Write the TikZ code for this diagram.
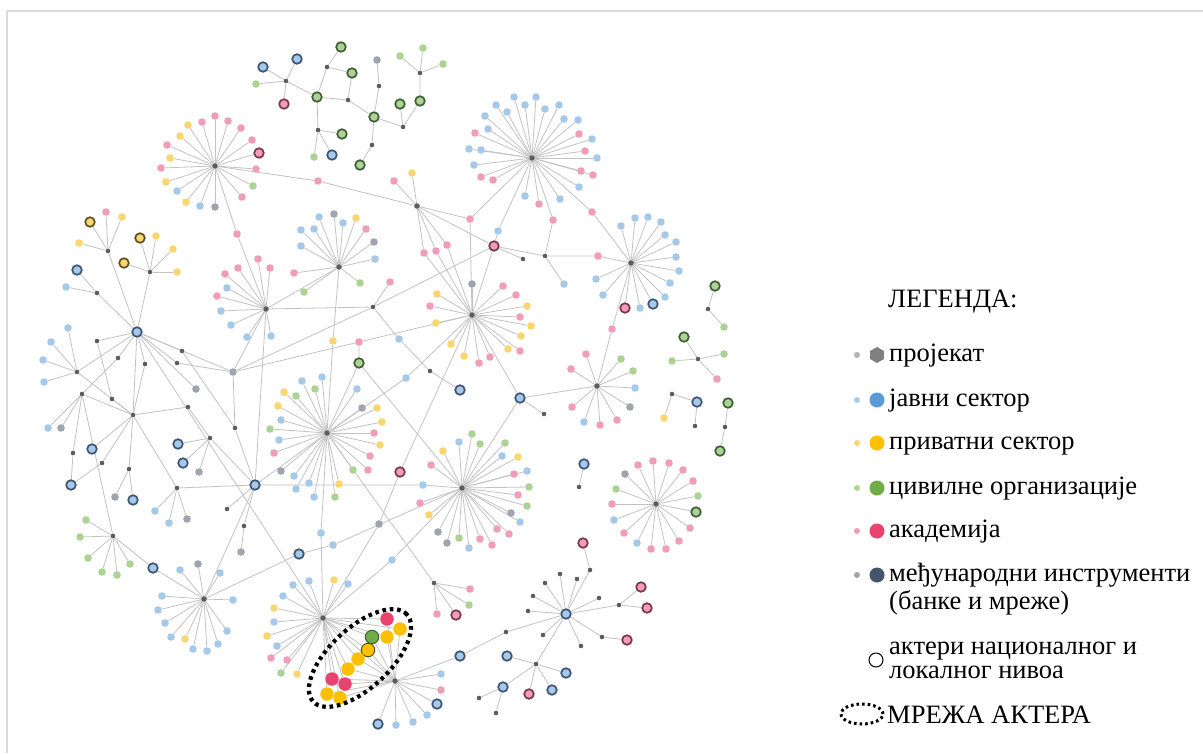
\documentclass[tikz,border=0pt]{standalone}
\usepackage{fontspec}
\setmainfont{Liberation Serif}
\usetikzlibrary{shapes.geometric}
\pgfdeclarelayer{edges}
\pgfsetlayers{edges,main}

\definecolor{cB}{HTML}{A6C9EA}
\definecolor{cP}{HTML}{F29DB6}
\definecolor{cY}{HTML}{F9D66F}
\definecolor{cG}{HTML}{ACD295}
\definecolor{cX}{HTML}{9FA4AE}
\definecolor{cXl}{HTML}{B4B4B4}
\definecolor{rB}{HTML}{3F5473}
\definecolor{rP}{HTML}{7A3550}
\definecolor{rG}{HTML}{3F5E33}
\definecolor{rY}{HTML}{5E5020}
\definecolor{sB}{HTML}{5B9BD5}
\definecolor{sY}{HTML}{FFC000}
\definecolor{sG}{HTML}{70AD47}
\definecolor{sP}{HTML}{E8436E}
\definecolor{sN}{HTML}{44546A}
\definecolor{sH}{HTML}{808080}
\definecolor{hubc}{HTML}{5C5C5C}
\definecolor{edgec}{HTML}{C2C2C2}
\definecolor{framec}{HTML}{DADADA}

\tikzset{
  edge/.style={draw=edgec, line width=0.8pt},
  dot/.style={circle, inner sep=0pt, minimum size=7.6pt, draw=none},
  lb/.style={dot, fill=cB},
  lp/.style={dot, fill=cP},
  ly/.style={dot, fill=cY},
  lg/.style={dot, fill=cG},
  lx/.style={dot, fill=cX},
  ring/.style={circle, inner sep=0pt, minimum size=9.6pt, line width=1.7pt},
  ob/.style={ring, fill=cB, draw=rB},
  op/.style={ring, fill=cP, draw=rP},
  og/.style={ring, fill=cG, draw=rG},
  oy/.style={ring, fill=cY, draw=rY},
  hub/.style={circle, inner sep=0pt, minimum size=4.6pt, fill=hubc},
  bighub/.style={circle, inner sep=0pt, minimum size=5.6pt, fill=hubc},
  big/.style={circle, inner sep=0pt, minimum size=13.5pt},
  bigp/.style={big, fill=sP},
  bigy/.style={big, fill=sY},
  bigyo/.style={big, fill=sY, draw=rY, line width=1pt},
  biggo/.style={big, fill=sG, draw=rG, line width=1pt},
  legtext/.style={anchor=base west, inner sep=0pt, font=\fontsize{26.5}{30}\selectfont},
  legsmall/.style={circle, inner sep=0pt, minimum size=6pt},
  legbig/.style={circle, inner sep=0pt, minimum size=15pt},
  mesh/.style={draw=black, line width=4.2pt, dash pattern=on 3.6pt off 3.8pt},
}

% leaves of a hub (name, list of x/y/style) and the spokes to them
\newcommand\leafset[2]{%
  \foreach \px/\py/\st [count=\k] in #2 {\node[\st] (#1-\k) at (\px,\py) {};}}
\newcommand\spokeset[2]{%
  \foreach \px/\py/\st [count=\k] in #2 {\draw[edge] (#1) -- (#1-\k);}}

% leaf lists
\newcommand\lsA{188/125/ly, 202/122/lp, 215/116/lp, 228/121/lp, 241/128/lp, 252/140/lp, 259/153/op, 256/169/lp, 253/186/lg, 242/197/lp, 215/207/lx, 200/206/lb, 186/202/ly, 177/191/lb, 166/182/ly, 161/168/lp, 170/158/ly, 167/145/lp, 180/136/ly}
\newcommand\lsC{258/259/lp, 238/268/lp, 225/274/lp, 270/268/lp, 227/288/lb, 217/296/lp, 221/311/lb, 231/325/lb, 247/337/lb, 271/336/lb}
\newcommand\lsD{319/217/lb, 334/214/lx, 343/223/lb, 356/218/ly, 366/229/lp, 374/242/lx, 375/259/lb, 360/283/lg, 301/230/lb, 314/229/lb, 301/246/lb, 294/273/lp, 304/292/lg}
\newcommand\lsB{394/181/lp, 412/173/ly}
\newcommand\lsF{514/97/lb, 536/97/lb, 496/105/lb, 525/105/lb, 507/112/lb, 545/109/lb, 559/105/lb, 564/119/lb, 578/120/lb, 485/116/lb, 488/129/lb, 475/133/lp, 579/134/lp, 592/139/lb, 469/149/lb, 481/150/lb, 585/151/lp, 597/158/lb, 474/165/lb, 481/177/lp, 493/180/lp, 581/171/lp, 593/175/lp, 579/187/lb, 525/196/lb, 560/199/lb, 539/204/lp}
\newcommand\lsG{621/226/lb, 635/218/lb, 648/217/lb, 661/222/lb, 665/235/lb, 676/242/lb, 676/257/lb, 679/271/lb, 670/283/lb, 665/297/lb, 653/304/ob, 640/308/lb, 625/308/op, 603/295/lb, 596/279/lb}
\newcommand\lsI{586/354/lp, 571/369/lp, 621/359/lg, 633/371/lg, 635/388/lb, 630/407/lx, 617/420/lp, 600/425/lp, 584/422/lb, 572/407/lp}
\newcommand\lsH{472/284/lx, 503/286/lp, 516/295/lp, 527/306/ly, 520/317/lp, 531/326/ly, 521/336/ly, 520/351/lp, 508/349/ly, 490/357/lp, 479/363/lp, 464/356/ly, 451/344/ly, 436/323/ly, 430/306/lp, 437/294/ly}
\newcommand\lsE{362/408/lx, 377/408/ly, 382/422/ly, 374/433/lp, 380/445/ly, 370/456/lp, 368/470/lp, 353/470/lg, 339/484/ly, 335/497/lg, 314/497/lb, 309/483/lb, 296/489/lb, 294/476/lb, 281/471/lx, 274/453/lp, 279/440/lb, 270/429/lg, 281/420/lb, 278/406/ly, 284/392/ly, 302/381/lb, 322/377/lb, 315/389/lg, 296/396/lg, 357/389/lb}
\newcommand\lsT{459/442/lb, 472/434/lg, 480/444/lg, 505/443/lg, 502/456/lb, 518/457/ly, 527/471/lb, 514/474/lp, 529/487/lg, 518/495/lp, 527/506/lg, 511/513/lx, 520/522/lb, 509/534/lp, 497/529/lp, 492/545/lp, 480/539/lp, 469/548/lb, 459/538/lg, 447/543/lx, 438/532/lx, 429/515/ly, 420/503/lp, 431/465/lp, 443/451/ly}
\newcommand\lsR{334/580/ly, 348/584/lb, 309/581/lb, 293/585/lb, 283/596/lb, 274/608/ly, 274/622/lb, 267/636/ly, 277/646/lb, 271/658/lp, 287/660/lp, 281/673/lg, 297/674/ly}
\newcommand\lsL{441/674/lb, 441/690/lp, 437/704/ob, 427/715/lb, 413/722/lb, 396/725/lb, 378/724/ob}
\newcommand\lsS{470/589/lp, 469/605/lg, 437/614/lp, 456/615/op}
\newcommand\lsJ{638/465/lp, 653/461/lp, 669/463/lp, 683/470/lp, 693/481/lp, 698/496/lg, 696/512/og, 690/528/lp, 679/541/lp, 666/549/lp, 651/549/lp, 637/543/lb, 624/533/lp, 614/520/lb, 612/504/lp, 616/489/lg, 625/474/lx}
\newcommand\lsQ{180/570/lb, 198/564/lx, 220/573/lb, 233/600/lb, 227/631/lb, 218/644/lb, 207/651/lb, 193/649/lb, 185/639/ly, 171/637/lb, 165/623/lb, 158/610/lb, 162/596/lb}
\newcommand\lsK{590/570/hub, 577/579/hub, 560/574/hub, 545/583/hub, 533/596/hub, 528/611/hub, 599/598/hub, 619/605/hub, 602/637/hub, 581/646/hub, 543/635/hub}
\newcommand\lsKa{583/543/op}
\newcommand\lsKh{641/587/op, 647/608/op}
\newcommand\lsKi{627/640/op}
\newcommand\lsM{507/656/ob, 566/673/ob, 552/690/ob, 529/694/op, 503/687/ob}
\newcommand\lsMe{479/698/hub, 496/713/hub}
\newcommand\lsNa{90/222/oy, 106/212/lp, 122/217/ly, 79/243/ly}
\newcommand\lsNb{140/238/oy, 156/236/ly, 173/249/ly, 177/272/ly, 124/263/oy}
\newcommand\lsNc{77/270/ob, 66/287/lb}
\newcommand\lsNd{68/328/lb, 51/342/lb, 43/360/lb, 44/382/lb}
\newcommand\lsOa{48/428/lb, 61/428/lx}
\newcommand\lsOe{115/497/lx, 133/500/ob}
\newcommand\lsOg{178/444/ob, 183/463/ob, 199/472/lx}
\newcommand\lsOi{155/511/lb, 169/523/lb, 187/519/lx}
\newcommand\lsOk{241/552/lx}
\newcommand\lsOl{86/520/lg, 80/537/lg, 88/558/lg, 102/572/lg, 117/575/lg, 130/564/lg}
\newcommand\lsTz{263/67/ob, 256/84/lg, 284/104/op, 297/59/ob}
\newcommand\lsTa{341/47/og}
\newcommand\lsTc{342/134/og, 332/155/ob, 314/157/lg}
\newcommand\lsTd{377/60/lx}
\newcommand\lsTe{360/165/og}
\newcommand\lsTf{400/104/og}
\newcommand\lsTg{400/56/lg, 423/48/lg, 443/64/lg}
\newcommand\lsRa{715/286/og, 724/327/lg}
\newcommand\lsRb{684/337/og, 672/361/lg, 724/354/lg, 717/379/lp}
\newcommand\lsRc{664/418/ly}
\newcommand\lsRe{728/403/og, 720/451/og}
\newcommand\lsRf{584/464/ob}
\newcommand\lsEll{387/619/bigp, 400/629/bigy, 387/637/bigy, 372/637/biggo, 368/650/bigyo, 358/659/bigy, 348/669/bigy, 332/679/bigp, 345/684/bigp, 327/694/bigy, 340/698/bigy}

\begin{document}
\begin{tikzpicture}[x=1pt,y=-1pt]
\useasboundingbox (0,0) rectangle (1203,753);
\draw[framec, line width=2pt] (1203,11) -- (7,11) -- (7,753);

% ---------- main hubs ----------
\node[bighub] (A) at (215,166) {};
\node[bighub] (B) at (417,206) {};
\node[bighub] (C) at (266,309) {};
\node[bighub] (D) at (339,267) {};
\node[bighub] (E) at (327,433) {};
\node[bighub] (F) at (532,158) {};
\node[bighub] (G) at (631,263) {};
\node[bighub] (H) at (472,315) {};
\node[bighub] (I) at (597,386) {};
\node[bighub] (J) at (656,504) {};
\node[ob] (K) at (566,614) {};
\node[bighub] (L) at (395,681) {};
\node[hub] (M) at (536,664) {};
\node[ob] (N) at (137,332) {};
\node[hub] (O) at (133,415) {};
\node[ob] (P) at (255,485) {};
\node[bighub] (Q) at (204,599) {};
\node[bighub] (R) at (323,618) {};
\node[hub] (S) at (434,583) {};
\node[bighub] (T) at (462,488) {};

% ---------- leaves of the stars ----------
\leafset{A}{\lsA}
\leafset{C}{\lsC}
\leafset{D}{\lsD}
\leafset{B}{\lsB}
\leafset{F}{\lsF}
\leafset{G}{\lsG}
\leafset{I}{\lsI}
\leafset{H}{\lsH}
\leafset{E}{\lsE}
\leafset{T}{\lsT}
\leafset{R}{\lsR}
\leafset{L}{\lsL}
\leafset{S}{\lsS}
\leafset{J}{\lsJ}
\leafset{Q}{\lsQ}
\leafset{K}{\lsK}
\leafset{K-1}{\lsKa}
\leafset{K-8}{\lsKh}
\leafset{K-9}{\lsKi}
\leafset{M}{\lsM}
\leafset{M-5}{\lsMe}

% ---------- connector nodes between stars ----------
\node[lp] (cAB) at (318,181) {};
\node[lp] (cAC) at (237,234) {};
\node[lp] (cBH1) at (424,253) {};
\node[lp] (cBH2) at (436,251) {};
\node[lp] (cBH3) at (447,245) {};
\node[lp] (cBF) at (470,219) {};
\node[lb] (cF1) at (498,231) {};
\node[op] (OP1) at (494,246) {};
\node[hub] (h1) at (523,259) {};
\node[hub] (h2) at (545,256) {};
\node[lp] (cF2) at (553,220) {};
\node[lb] (h2b) at (564,284) {};
\node[lp] (cG1) at (598,256) {};
\node[lp] (cG2) at (592,212) {};
\node[lp] (cGI) at (612,329) {};
\node[ob] (OB2) at (520,398) {};
\node[hub] (h3) at (544,414) {};
\node[lb] (cH1) at (406,378) {};
\node[lp] (cH2) at (359,342) {};
\node[lx] (X1) at (233,372) {};
\node[og] (OG1) at (359,363) {};
\node[op] (OPa) at (400,472) {};
\node[lx] (Xa) at (379,524) {};
\node[hub] (h4) at (373,307) {};
\node[lp] (h4p) at (390,282) {};
\node[lb] (h4b) at (399,339) {};
\node[hub] (h5) at (430,371) {};
\node[ob] (OB3) at (460,390) {};
\node[ly] (cDE) at (333,341) {};
\node[lb] (cR1) at (321,533) {};
\node[lb] (cR2) at (392,560) {};
\node[lb] (cPT) at (423,485) {};
\node[ob] (OB6) at (299,554) {};
\node[lb] (cQT) at (333,545) {};
\node[hub] (k12) at (506,632) {};
\node[ob] (OB4) at (460,656) {};

% ---------- left cluster ----------
\node[hub] (n1) at (108,251) {};
\node[hub] (n2) at (150,272) {};
\node[hub] (n3) at (97,293) {};
\node[hub] (n4) at (77,372) {};
\node[hub] (n5) at (97,341) {};
\node[hub] (n6) at (118,358) {};
\node[hub] (n7) at (145,364) {};
\node[hub] (n8) at (182,351) {};
\node[hub] (n9) at (177,363) {};
\node[lx] (X2) at (196,389) {};
\node[hub] (o1) at (82,394) {};
\node[hub] (o2) at (112,399) {};
\node[hub] (o3) at (73,453) {};
\node[hub] (o4) at (102,463) {};
\node[hub] (o5) at (129,469) {};
\node[hub] (o6) at (188,407) {};
\node[hub] (o7) at (210,438) {};
\node[hub] (o8) at (235,428) {};
\node[hub] (o9) at (177,488) {};
\node[hub] (o10) at (227,509) {};
\node[hub] (o11) at (244,526) {};
\node[hub] (o12) at (113,536) {};
\node[ob] (OBl1) at (92,449) {};
\node[ob] (OBl2) at (71,485) {};
\node[ob] (OB5) at (153,568) {};
\leafset{n1}{\lsNa}
\leafset{n2}{\lsNb}
\leafset{n3}{\lsNc}
\leafset{n4}{\lsNd}
\leafset{o1}{\lsOa}
\leafset{o5}{\lsOe}
\leafset{o7}{\lsOg}
\leafset{o9}{\lsOi}
\leafset{o11}{\lsOk}
\leafset{o12}{\lsOl}

% ---------- top tree ----------
\node[hub] (t0) at (286,81) {};
\node[og] (t1) at (317,97) {};
\node[hub] (th1) at (327,67) {};
\node[og] (t2) at (352,73) {};
\node[hub] (th2) at (348,100) {};
\node[og] (t3) at (374,117) {};
\node[hub] (th3) at (318,130) {};
\node[hub] (th4) at (379,86) {};
\node[hub] (th5) at (372,145) {};
\node[hub] (th6) at (403,127) {};
\node[og] (t4) at (420,101) {};
\node[hub] (th7) at (420,73) {};
\leafset{t0}{\lsTz}
\leafset{th1}{\lsTa}
\leafset{th3}{\lsTc}
\leafset{th4}{\lsTd}
\leafset{th5}{\lsTe}
\leafset{th6}{\lsTf}
\leafset{th7}{\lsTg}

% ---------- small groups on the right ----------
\node[hub] (rh1) at (708,309) {};
\node[hub] (rh2) at (698,359) {};
\node[hub] (rh3) at (672,394) {};
\node[ob] (rb3) at (697,402) {};
\node[hub] (rh4) at (695,426) {};
\node[hub] (rh5) at (725,427) {};
\node[hub] (rh6) at (579,487) {};
\leafset{rh1}{\lsRa}
\leafset{rh2}{\lsRb}
\leafset{rh3}{\lsRc}
\leafset{rh5}{\lsRe}
\leafset{rh6}{\lsRf}

% ---------- actor network inside the dotted ring ----------
\foreach \px/\py/\st [count=\k] in \lsEll {\node[\st] (e\k) at (\px,\py) {};}

% ---------- all connectors, behind the nodes ----------
\begin{pgfonlayer}{edges}
\spokeset{A}{\lsA}
\spokeset{C}{\lsC}
\spokeset{D}{\lsD}
\spokeset{B}{\lsB}
\spokeset{F}{\lsF}
\spokeset{G}{\lsG}
\spokeset{I}{\lsI}
\spokeset{H}{\lsH}
\spokeset{E}{\lsE}
\spokeset{T}{\lsT}
\spokeset{R}{\lsR}
\spokeset{L}{\lsL}
\spokeset{S}{\lsS}
\spokeset{J}{\lsJ}
\spokeset{Q}{\lsQ}
\spokeset{K}{\lsK}
\spokeset{K-1}{\lsKa}
\spokeset{K-8}{\lsKh}
\spokeset{K-9}{\lsKi}
\spokeset{M}{\lsM}
\spokeset{M-5}{\lsMe}
\spokeset{n1}{\lsNa}
\spokeset{n2}{\lsNb}
\spokeset{n3}{\lsNc}
\spokeset{n4}{\lsNd}
\spokeset{o1}{\lsOa}
\spokeset{o5}{\lsOe}
\spokeset{o7}{\lsOg}
\spokeset{o9}{\lsOi}
\spokeset{o11}{\lsOk}
\spokeset{o12}{\lsOl}
\spokeset{t0}{\lsTz}
\spokeset{th1}{\lsTa}
\spokeset{th3}{\lsTc}
\spokeset{th4}{\lsTd}
\spokeset{th5}{\lsTe}
\spokeset{th6}{\lsTf}
\spokeset{th7}{\lsTg}
\spokeset{rh1}{\lsRa}
\spokeset{rh2}{\lsRb}
\spokeset{rh3}{\lsRc}
\spokeset{rh5}{\lsRe}
\spokeset{rh6}{\lsRf}
\foreach \k in {1,...,11} {\draw[edge] (R) -- (e\k) -- (L);}
\draw[edge] (A) -- (cAB) -- (B);
\draw[edge] (A) -- (cAC) -- (C);
\draw[edge] (B) -- (cBH1) -- (H);
\draw[edge] (B) -- (cBH2) -- (H);
\draw[edge] (B) -- (cBH3) -- (H);
\draw[edge] (B) -- (cBF) -- (F);
\draw[edge] (cBF) -- (H);
\draw[edge] (F) -- (cF1) -- (OP1);
\draw[edge] (OP1) -- (B);
\draw[edge] (OP1) -- (H);
\draw[edge] (OP1) -- (h1);
\draw[edge] (OP1) -- (h2);
\draw[edge] (h2) -- (cF2) -- (F);
\draw[edge] (h2) -- (h2b);
\draw[edge] (h2) -- (cG1) -- (G);
\draw[edge] (F) -- (cG2) -- (G);
\draw[edge] (G) -- (cGI) -- (I);
\draw[edge] (H) -- (OB2) -- (I);
\draw[edge] (OB2) -- (h3);
\draw[edge] (OB2) -- (T);
\draw[edge] (H) -- (cH1) -- (E);
\draw[edge] (H) -- (cH2) -- (X1);
\draw[edge] (cH2) -- (OG1) -- (E);
\draw[edge] (OG1) -- (T);
\draw[edge] (H) -- (OPa) -- (Xa) -- (R);
\draw[edge] (C) -- (h4);
\draw[edge] (X1) -- (h4) -- (OP1);
\draw[edge] (h4) -- (h4p);
\draw[edge] (h4) -- (h4b) -- (h5) -- (OB3);
\draw[edge] (D) -- (cDE) -- (E);
\draw[edge] (C) -- (D);
\draw[edge] (R) -- (cR1) -- (E);
\draw[edge] (R) -- (cR2) -- (T);
\draw[edge] (P) -- (cPT) -- (T);
\draw[edge] (Q) -- (OB6) -- (cQT) -- (T);
\draw[edge] (E) -- (S);
\draw[edge] (K) -- (k12) -- (OB4) -- (L);
\draw[edge] (K) -- (M);
\draw[edge] (C) -- (X1);
\draw[edge] (C) -- (P);
\draw[edge] (P) -- (E);
\draw[edge] (R) -- (L);
% left cluster
\draw[edge] (N) -- (n1);
\draw[edge] (N) -- (n2);
\draw[edge] (N) -- (n3);
\draw[edge] (N) -- (n4);
\draw[edge] (N) -- (n5) -- (o2);
\draw[edge] (N) -- (n6) -- (o1);
\draw[edge] (N) -- (n7) -- (O);
\draw[edge] (N) -- (n8) -- (o8);
\draw[edge] (N) -- (n9) -- (X1);
\draw[edge] (N) -- (X2);
\draw[edge] (N) -- (X1);
\draw[edge] (N) -- (O);
\draw[edge] (N) -- (R);
\draw[edge] (O) -- (o1);
\draw[edge] (O) -- (o2);
\draw[edge] (O) -- (o4) -- (OBl2);
\draw[edge] (O) -- (o5);
\draw[edge] (O) -- (OBl1);
\draw[edge] (O) -- (o9) -- (P);
\draw[edge] (O) -- (o6) -- (o7) -- (P);
\draw[edge] (O) -- (n4);
\draw[edge] (o1) -- (o3) -- (OBl2);
\draw[edge] (o1) -- (o12) -- (OB5) -- (Q);
\draw[edge] (X1) -- (o8) -- (P);
\draw[edge] (P) -- (o10);
\draw[edge] (P) -- (o11);
\draw[edge] (P) -- (Q);
% top tree
\draw[edge] (t0) -- (t1) -- (th1) -- (t2) -- (th2) -- (t1);
\draw[edge] (th2) -- (t3);
\draw[edge] (t1) -- (th3);
\draw[edge] (th4) -- (t3) -- (th5);
\draw[edge] (t3) -- (th6) -- (t4) -- (th7);
% right groups
\draw[edge] (rh3) -- (rb3) -- (rh4);
\end{pgfonlayer}

% dotted ring round the actor network
\draw[mesh, rotate around={43:(360,658)}] (360,658) ellipse [x radius=64pt, y radius=30pt];

% ---------- legend ----------
\node[legtext] (legT) at (888,307) {ЛЕГЕНДА:};
\node[legsmall, fill=cXl] (s1) at (857,355) {};
\node[regular polygon, regular polygon sides=6, shape border rotate=30, inner sep=0pt, minimum size=16pt, fill=sH] (b1) at (877,355) {};
\node[legtext] (t1l) at (889,361) {пројекат};
\node[legsmall, fill=cB] (s2) at (857,400) {};
\node[legbig, fill=sB] (b2) at (877,400) {};
\node[legtext] (t2l) at (889,406) {јавни сектор};
\node[legsmall, fill=cY] (s3) at (857,443) {};
\node[legbig, fill=sY] (b3) at (877,443) {};
\node[legtext] (t3l) at (889,449) {приватни сектор};
\node[legsmall, fill=cG] (s4) at (857,488) {};
\node[legbig, fill=sG] (b4) at (877,488) {};
\node[legtext] (t4l) at (889,494) {цивилне организације};
\node[legsmall, fill=cP] (s5) at (857,531) {};
\node[legbig, fill=sP] (b5) at (877,531) {};
\node[legtext] (t5l) at (889,537) {академија};
\node[legsmall, fill=cX] (s6) at (857,575) {};
\node[legbig, fill=sN] (b6) at (877,575) {};
\node[legtext] (t6l) at (889,581) {међународни инструменти};
\node[legtext] (t6m) at (889,609) {(банке и мреже)};
\node[circle, draw=black, line width=1pt, inner sep=0pt, minimum size=14pt] (b7) at (876,660) {};
\node[legtext] (t7l) at (889,654) {актери националног и};
\node[legtext] (t7m) at (889,678) {локалног нивоа};
\draw[draw=black, line width=3pt, dash pattern=on 2.6pt off 3pt] (862,714) ellipse [x radius=21pt, y radius=10pt];
\node[legtext] (t8l) at (887,723) {МРЕЖА АКТЕРА};
\end{tikzpicture}
\end{document}
